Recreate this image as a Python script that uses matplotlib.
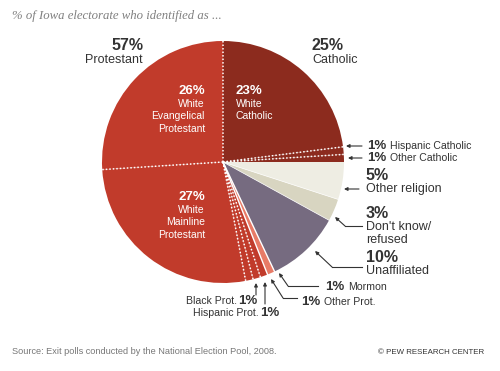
import numpy as np
import matplotlib
matplotlib.use("Agg")
import matplotlib.pyplot as plt

plt.rcParams['font.family'] = ['Liberation Sans', 'DejaVu Sans']

# ---- data ----
labels = ["White Catholic", "Hispanic Catholic", "Other Catholic", "Other religion",
          "Don't know/refused", "Unaffiliated", "Mormon", "Other Prot.",
          "Hispanic Prot.", "Black Prot.", "White Mainline Protestant",
          "White Evangelical Protestant"]
values = [23, 1, 1, 5, 3, 10, 1, 1, 1, 1, 27, 26]
group_totals = {"Protestant": 57, "Catholic": 25}
title = "% of Iowa electorate who identified as ..."
source = "Source: Exit polls conducted by the National Election Pool, 2008."
credit = "© PEW RESEARCH CENTER"

# ---- style ----
DARK = "#8C2B1E"
RED = "#C13B2B"
colors = [DARK, DARK, DARK, "#EEEDE3", "#D8D5C1", "#766B80", "#E87B67",
          RED, RED, RED, RED, RED]
# boundary style at the start of each slice
bstyle = ["dot", "dot", "dot", "none", "thin", "thin", "solid", "solid",
          "dot", "dot", "dot", "dot"]
TXT = "#333333"

fig = plt.figure(figsize=(5.0, 3.71), dpi=100)
ax = fig.add_axes([0, 0, 1, 1])

cx, cy, R = 223, 162, 121
wedges, _ = ax.pie(values, colors=colors, startangle=-90, counterclock=True,
                   center=(cx, cy), radius=R, frame=True,
                   wedgeprops=dict(linewidth=0))
ax.set_xlim(0, 500)
ax.set_ylim(371, 0)
ax.set_aspect('equal')
ax.axis('off')

total = sum(values)
cum = np.concatenate([[0], np.cumsum(values)[:-1]])
for start, st in zip(cum, bstyle):
    ang = np.deg2rad(-90 + 360 * start / total)
    xs = [cx, cx + R * np.cos(ang)]
    ys = [cy, cy + R * np.sin(ang)]
    if st == "dot":
        ax.plot(xs, ys, color="white", lw=1.1, ls=(0, (1, 1.3)), solid_capstyle='butt')
    elif st == "solid":
        ax.plot(xs, ys, color="white", lw=1.0)
    elif st == "thin":
        ax.plot(xs, ys, color="white", lw=0.5)

# ---- title & footer ----
ax.text(12, 16, title, fontsize=9.2, style='italic', family='Liberation Serif',
        color="#808080", va='center', ha='left')
ax.text(12, 352, source, fontsize=6.6, color="#777777", va='center', ha='left')
ax.text(484, 352, credit, fontsize=5.7, color="#333333", va='center', ha='right')

# ---- group labels ----
ax.text(143, 45, f"{group_totals['Protestant']}%", fontsize=11.5, weight='bold',
        color=TXT, ha='right', va='center')
ax.text(143, 60, "Protestant", fontsize=9, color=TXT, ha='right', va='center')
ax.text(312, 45, f"{group_totals['Catholic']}%", fontsize=11.5, weight='bold',
        color=TXT, ha='left', va='center')
ax.text(312, 60, "Catholic", fontsize=9, color=TXT, ha='left', va='center')

# ---- inside labels ----
def inside(x, y, pct, lines, ha):
    ax.text(x, y, f"{pct}%", fontsize=9.5, weight='bold', color='white', ha=ha, va='center')
    for i, ln in enumerate(lines):
        ax.text(x, y + 12.7 * (i + 1), ln, fontsize=7.5, color='white', ha=ha, va='center')

inside(236, 91, values[0], ["White", "Catholic"], 'left')
inside(205, 91, values[11], ["White", "Evangelical", "Protestant"], 'right')
inside(205, 197, values[10], ["White", "Mainline", "Protestant"], 'right')

# ---- outside labels ----
arrow = dict(arrowstyle='-|>', color=TXT, lw=0.8, mutation_scale=5, shrinkA=0, shrinkB=0)

def leader(points):
    pts = np.array(points)
    if len(pts) > 2:
        ax.plot(pts[1:, 0], pts[1:, 1], color=TXT, lw=0.8)
    ax.annotate("", xy=tuple(pts[0]), xytext=tuple(pts[1]), arrowprops=arrow)

# Hispanic Catholic
leader([(346, 146), (362, 146)])
ax.text(367, 146, f"{values[1]}%", fontsize=9.5, weight='bold', color=TXT, va='center')
ax.text(390, 146, labels[1], fontsize=7.6, color=TXT, va='center')
# Other Catholic
leader([(348, 158), (362, 158)])
ax.text(367, 158, f"{values[2]}%", fontsize=9.5, weight='bold', color=TXT, va='center')
ax.text(390, 158, labels[2], fontsize=7.6, color=TXT, va='center')
# Other religion
leader([(344, 189), (359, 189)])
ax.text(366, 176, f"{values[3]}%", fontsize=11.5, weight='bold', color=TXT, va='center')
ax.text(366, 189, labels[3], fontsize=9, color=TXT, va='center')
# Don't know
leader([(335, 217), (345, 226), (362, 226)])
ax.text(366, 213, f"{values[4]}%", fontsize=11.5, weight='bold', color=TXT, va='center')
ax.text(366, 227, "Don't know/", fontsize=9, color=TXT, va='center')
ax.text(366, 240, "refused", fontsize=9, color=TXT, va='center')
# Unaffiliated
leader([(315, 251), (332, 267), (362, 267)])
ax.text(366, 257, f"{values[5]}%", fontsize=11.5, weight='bold', color=TXT, va='center')
ax.text(366, 271, labels[5], fontsize=9, color=TXT, va='center')
# Mormon
leader([(279, 273), (288, 286), (318, 286)])
ax.text(325, 287, f"{values[6]}%", fontsize=9.5, weight='bold', color=TXT, va='center')
ax.text(348, 287, labels[6], fontsize=7.6, color=TXT, va='center')
# Other Prot.
leader([(271, 279), (283, 298), (297, 298)])
ax.text(301, 302, f"{values[7]}%", fontsize=9.5, weight='bold', color=TXT, va='center')
ax.text(324, 302, labels[7], fontsize=7.6, color=TXT, va='center')
# Hispanic Prot.
leader([(265, 282), (265, 304)])
ax.text(279, 313, f"{values[8]}%", fontsize=9.5, weight='bold', color=TXT, va='center', ha='right')
ax.text(259, 313, labels[8], fontsize=7.6, color=TXT, va='center', ha='right')
# Black Prot.
leader([(256, 283), (256, 295)])
ax.text(257, 301, f"{values[9]}%", fontsize=9.5, weight='bold', color=TXT, va='center', ha='right')
ax.text(237, 301, labels[9], fontsize=7.6, color=TXT, va='center', ha='right')

fig.savefig("out.png", dpi=100, facecolor='white')
